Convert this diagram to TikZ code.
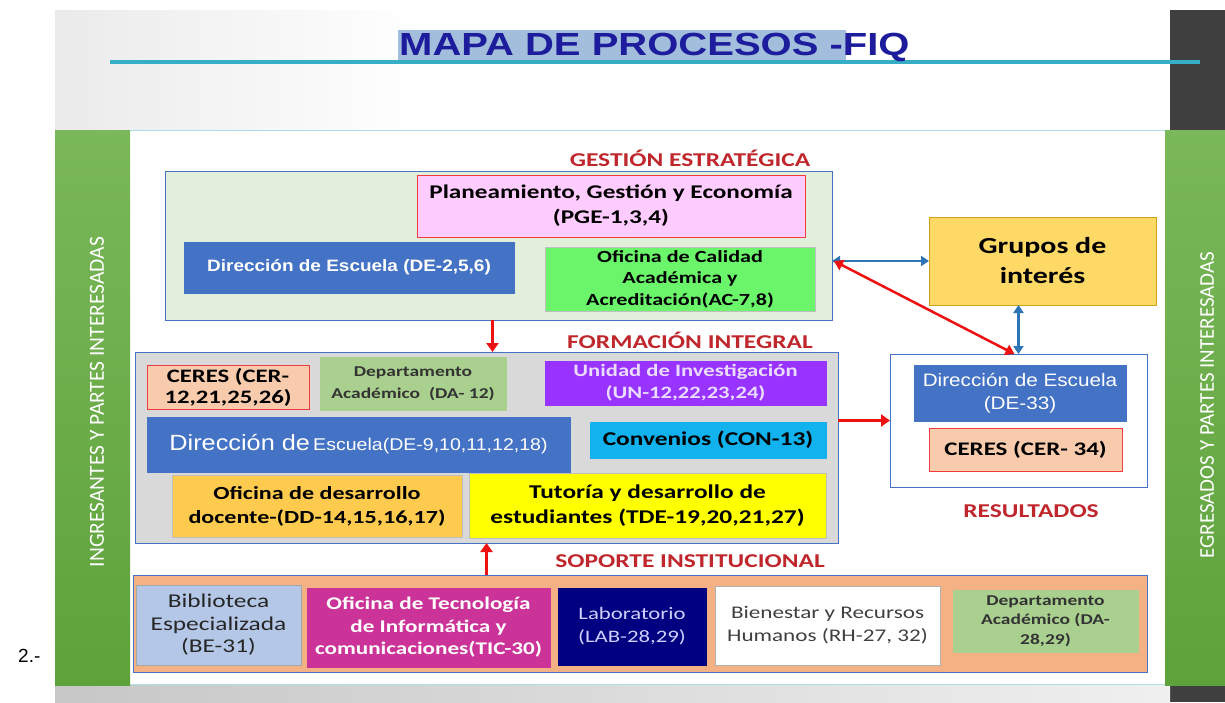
\documentclass[tikz,border=0pt]{standalone}
\usepackage{fontspec}
\setmainfont[FakeStretch=1.3]{Carlito}
\newfontfamily\arialf{Liberation Sans}
\newfontfamily\arialsf[FakeStretch=1.15]{Liberation Sans}
\newfontfamily\titlef[FakeStretch=1.25]{Liberation Sans}
\newfontfamily\sidef{Carlito}
\usetikzlibrary{arrows.meta,calc}
\definecolor{titleblue}{HTML}{1C1C9C}
\definecolor{titlebg}{HTML}{A3BEDD}
\definecolor{tealline}{HTML}{35AEC6}
\definecolor{greenA}{HTML}{7AB85A}
\definecolor{greenB}{HTML}{5EA23A}
\definecolor{darkband}{HTML}{3F3F3F}
\definecolor{boxblue}{HTML}{4472C4}
\definecolor{gebg}{HTML}{E2EFDA}
\definecolor{pinkbox}{HTML}{FFCCFF}
\definecolor{redlbl}{HTML}{C0272D}
\definecolor{acgreen}{HTML}{6BF56B}
\definecolor{figray}{HTML}{D9D9D9}
\definecolor{ceresfill}{HTML}{F8CBAD}
\definecolor{ceresline}{HTML}{F03C3C}
\definecolor{dagreen}{HTML}{A9D08E}
\definecolor{unpurple}{HTML}{9933FF}
\definecolor{untext}{HTML}{EADCFF}
\definecolor{concyan}{HTML}{12B2EE}
\definecolor{ddorange}{HTML}{FFCB4F}
\definecolor{tdeyellow}{HTML}{FFFF00}
\definecolor{siorange}{HTML}{F4B183}
\definecolor{befill}{HTML}{B4C7E7}
\definecolor{ticmag}{HTML}{CC3399}
\definecolor{labnavy}{HTML}{000080}
\definecolor{labtext}{HTML}{D0D0FF}
\definecolor{rhtext}{HTML}{404040}
\definecolor{grupfill}{HTML}{FFD966}
\definecolor{grupline}{HTML}{D4A017}
\definecolor{arrred}{HTML}{EE1111}
\definecolor{arrblue}{HTML}{2E75B6}
\newcommand{\fs}[2]{\fontsize{#1}{#2}\selectfont}
\newcommand{\mkbox}[7]{\node[#6, minimum width={#4-#2}, minimum height={#5-#3}] (#1) at ({(#2+#4)/2},{(#3+#5)/2}) {#7};}
\begin{document}
\begin{tikzpicture}[x=1pt,y=-1pt,
  box/.style={draw, line width=0.9pt, inner sep=0pt, outer sep=0pt, align=center},
  lbl/.style={text=redlbl, font=\bfseries\fs{19.6}{22}},
  redarr/.style={draw=arrred, line width=3pt, -{Triangle[length=9pt,width=12pt]}},
  redarr2/.style={draw=arrred, line width=2.5pt, {Triangle[length=9pt,width=11pt]}-{Triangle[length=9pt,width=11pt]}},
  bluearr/.style={draw=arrblue, line width=2.5pt, {Triangle[length=8pt,width=10pt]}-{Triangle[length=8pt,width=10pt]}},
  side/.style={text=white, rotate=90, font=\sidef\fs{21.5}{24}}]
\useasboundingbox (0,0) rectangle (1225,702);
\fill[white] (0,0) rectangle (1225,702);
% slide background
\shade[left color=black!8, right color=white] (55,10) rectangle (420,130);
\fill[darkband] (1170,10) rectangle (1225,130);
\fill[darkband] (1170,685) rectangle (1225,702);
\shade[left color=black!22, right color=black!6] (55,685) rectangle (1170,702);
\shade[top color=greenA, bottom color=greenB] (55,130) rectangle (130,685);
\shade[top color=greenA, bottom color=greenB] (1165,130) rectangle (1225,685);
\draw[tealline!40, line width=0.8pt] (130,130) -- (1165,130);
\draw[tealline!40, line width=0.8pt] (130,684) -- (1165,684);
% title
\fill[titlebg] (398,30) rectangle (846,64);
\draw[tealline, line width=4pt] (110,62) -- (1200,62);
\node[font=\titlef\bfseries\fs{32}{36}, text=titleblue, anchor=west, inner sep=0pt] (title) at (399,47) {MAPA DE PROCESOS -FIQ};
% side labels
\node[side] (ingr) at (97,402) {INGRESANTES Y PARTES INTERESADAS};
\node[side, font=\sidef\fs{21}{24}] (egr) at (1207,405) {EGRESADOS Y PARTES INTERESADAS};
\node[font=\arialf\fs{19}{22}, anchor=west, inner sep=0pt] (num) at (18,656) {2.-};
% Gestion estrategica
\node[lbl] (lge) at (690,158) {GESTIÓN ESTRATÉGICA};
\mkbox{ge}{165}{171}{832}{320}{box, draw=boxblue, fill=gebg}{}
\mkbox{pge}{417}{175}{805}{237}{box, draw=ceresline, fill=pinkbox, font=\bfseries\fs{19.4}{25}}{Planeamiento, Gestión y Economía\\(PGE-1,3,4)}
\mkbox{de2}{184}{242}{514}{293}{box, draw=boxblue, fill=boxblue, text=white, font=\arialsf\bfseries\fs{16.5}{19}}{Dirección de Escuela (DE-2,5,6)}
\mkbox{ac}{545}{247}{815}{311}{box, draw=black!25, fill=acgreen, font=\bfseries\fs{17}{21.5}}{Oficina de Calidad\\Académica y\\Acreditación(AC-7,8)}
% Formacion integral
\node[lbl] (lfi) at (690,340) {FORMACIÓN INTEGRAL};
\mkbox{fi}{135}{352}{838}{543}{box, draw=boxblue, fill=figray}{}
\mkbox{cer}{147}{365}{309}{409}{box, draw=ceresline, fill=ceresfill, font=\bfseries\fs{19}{21}}{CERES (CER-\\12,21,25,26)}
\mkbox{da12}{320}{357}{506}{410}{box, draw=dagreen, fill=dagreen, text=black!80, font=\bfseries\fs{15}{22}}{Departamento\\Académico\ \ (DA- 12)}
\mkbox{un}{545}{361}{826}{405}{box, draw=unpurple, fill=unpurple, text=untext, font=\bfseries\fs{17.4}{22}}{Unidad de Investigación\\(UN-12,22,23,24)}
\mkbox{de9}{147}{417}{570}{472}{box, draw=boxblue, fill=boxblue, text=white, font=\arialsf}{{\fs{22}{24}Dirección de} {\fs{17}{24}Escuela(DE-9,10,11,12,18)}}
\mkbox{con}{590}{422}{826}{458}{box, draw=concyan, fill=concyan, font=\bfseries\fs{19.5}{22}}{Convenios (CON-13)}
\mkbox{dd}{172}{475}{462}{537}{box, draw=black!25, fill=ddorange, font=\bfseries\fs{18.5}{24}}{Oficina de desarrollo\\docente-(DD-14,15,16,17)}
\mkbox{tde}{469}{473}{826}{538}{box, draw=black!25, fill=tdeyellow, font=\bfseries\fs{19.5}{25}}{Tutoría y desarrollo de\\estudiantes (TDE-19,20,21,27)}
% Soporte institucional
\node[lbl] (lsi) at (690,561) {SOPORTE INSTITUCIONAL};
\mkbox{si}{133}{575}{1147}{672}{box, draw=boxblue, fill=siorange}{}
\mkbox{be}{136}{585}{301}{665}{box, draw=black!35, fill=befill, text=black!85, font=\fs{19.5}{22.5}}{Biblioteca\\Especializada\\(BE-31)}
\mkbox{tic}{307}{588}{550}{667}{box, draw=ticmag, fill=ticmag, text=white, font=\bfseries\fs{17.8}{22.5}}{Oficina de Tecnología\\de Informática y\\comunicaciones(TIC-30)}
\mkbox{lab}{558}{588}{706}{665}{box, draw=labnavy, fill=labnavy, text=labtext, font=\fs{17.5}{23}}{Laboratorio\\(LAB-28,29)}
\mkbox{rh}{715}{586}{940}{665}{box, draw=black!30, fill=white, text=rhtext, font=\fs{17.8}{23}}{Bienestar y Recursos\\Humanos (RH-27, 32)}
\mkbox{da28}{953}{590}{1138}{652}{box, draw=dagreen, fill=dagreen, text=black!80, font=\bfseries\fs{15}{19.5}}{Departamento\\Académico (DA-\\28,29)}
% Resultados
\mkbox{gi}{929}{217}{1156}{305}{box, draw=grupline, fill=grupfill, font=\bfseries\fs{23}{30}}{Grupos de\\interés}
\mkbox{res}{890}{354}{1147}{487}{box, draw=boxblue, fill=white}{}
\mkbox{de33}{914}{365}{1126}{421}{box, draw=boxblue, fill=boxblue, text=white, font=\arialsf\fs{18}{23}}{Dirección de Escuela\\(DE-33)}
\mkbox{cer34}{929}{428}{1122}{471}{box, draw=ceresline, fill=ceresfill, font=\bfseries\fs{19.2}{22}}{CERES (CER- 34)}
\node[lbl] (lres) at (1031,511) {RESULTADOS};
% arrows
\draw[redarr] ([xshift=-6pt]ge.south) -- ([xshift=-6pt]ge.south |- fi.north);
\draw[redarr] (fi.south |- si.north) -- (fi.south);
\draw[redarr] (fi.east |- res.west) -- (res.west);
\draw[bluearr] (ge.east |- gi.west) -- (gi.west);
\draw[bluearr] (gi.south -| res.north) -- (res.north);
\draw[redarr2] ([xshift=2pt]ge.east |- gi.west) -- ([xshift=-4pt]res.north);
\end{tikzpicture}
\end{document}
